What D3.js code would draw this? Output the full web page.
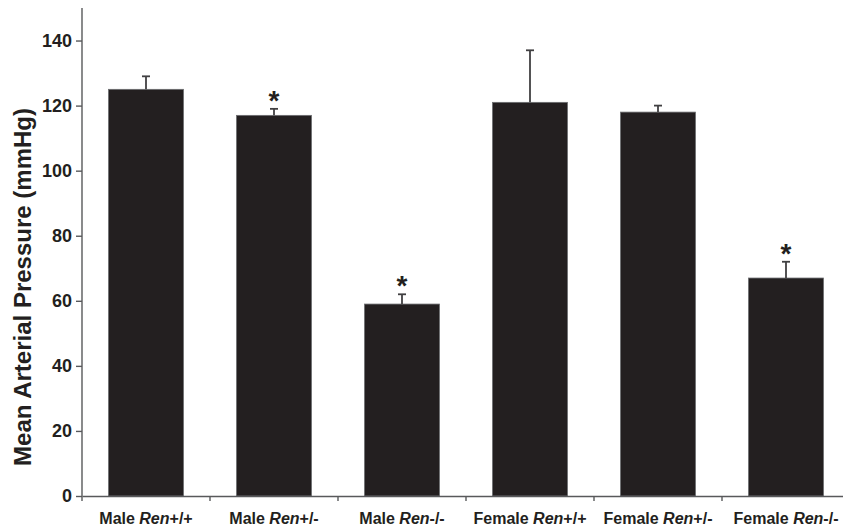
<!DOCTYPE html>
<html>
<head>
    <meta charset="utf-8" />
    <style>
        body { margin: 0; background: #fff; }
        .axis path, .axis line {
            stroke: #58595b;
            stroke-width: 1.4;
        }
        .axis text {
            font-family: "Liberation Sans", Arial, sans-serif;
            font-weight: bold;
            fill: #231f20;
        }
    </style>
    <script src="https://d3js.org/d3.v7.min.js"></script>
</head>
<body>
<script>

// data
let groups = ["Male +/+", "Male +/-", "Male -/-", "Female +/+", "Female +/-", "Female -/-"];
let sexes = ["Male", "Male", "Male", "Female", "Female", "Female"];
let genotypes = ["+/+", "+/-", "-/-", "+/+", "+/-", "-/-"];
let means = [125, 117, 59, 121, 118, 67];
let errors = [4, 2, 3, 16, 2, 5];
let significant = [false, true, true, false, false, true];
let yTicks = [0, 20, 40, 60, 80, 100, 120, 140];

let realW = 843, realH = 529;
let margin = { top: 8, right: -7, bottom: 33, left: 82 };
let w = realW - margin.left - margin.right,
    h = realH - margin.top - margin.bottom;

let svg = d3.select("body")
    .append("svg")
    .attr("width", realW)
    .attr("height", realH);

let g = svg.append("g")
    .attr("transform", "translate(" + margin.left + "," + margin.top + ")");

let xScale = d3.scaleBand()
    .domain(groups)
    .range([0, w])
    .paddingInner(0.414)
    .paddingOuter(0.207);

let yScale = d3.scaleLinear()
    .domain([0, 150])
    .range([h, 0]);

// bars
g.selectAll("rect.bar")
    .data(groups)
    .enter()
    .append("rect")
    .attr("class", "bar")
    .attr("x", d => xScale(d))
    .attr("y", (d, i) => yScale(means[i]))
    .attr("width", xScale.bandwidth())
    .attr("height", (d, i) => h - yScale(means[i]))
    .attr("fill", "#231f20")
    .attr("stroke", "#6d6e71")
    .attr("stroke-width", 0.8);

// error bars (upper only)
let cx = d => xScale(d) + xScale.bandwidth() / 2;

g.selectAll("line.err")
    .data(groups)
    .enter()
    .append("line")
    .attr("class", "err")
    .attr("x1", cx).attr("x2", cx)
    .attr("y1", (d, i) => yScale(means[i]))
    .attr("y2", (d, i) => yScale(means[i] + errors[i]))
    .attr("stroke", "#414042")
    .attr("stroke-width", 1.8);

g.selectAll("line.cap")
    .data(groups)
    .enter()
    .append("line")
    .attr("class", "cap")
    .attr("x1", d => cx(d) - 4).attr("x2", d => cx(d) + 4)
    .attr("y1", (d, i) => yScale(means[i] + errors[i]))
    .attr("y2", (d, i) => yScale(means[i] + errors[i]))
    .attr("stroke", "#414042")
    .attr("stroke-width", 1.8);

// asterisks
g.selectAll("text.star")
    .data(groups.filter((d, i) => significant[i]))
    .enter()
    .append("text")
    .attr("class", "star")
    .attr("x", cx)
    .attr("y", d => {
        let i = groups.indexOf(d);
        return yScale(means[i] + errors[i]) + 1;
    })
    .attr("text-anchor", "middle")
    .attr("font-family", "Liberation Sans, Arial, sans-serif")
    .attr("font-weight", "bold")
    .attr("font-size", 28)
    .attr("fill", "#231f20")
    .text("*");

// axes
let xAxis = d3.axisBottom(xScale).tickSize(0).tickFormat("");
let xg = g.append("g")
    .attr("class", "axis")
    .attr("transform", "translate(0," + h + ")")
    .call(xAxis);

// ticks at band boundaries
let step = xScale.step();
xg.selectAll("line.bound")
    .data(d3.range(groups.length + 1))
    .enter()
    .append("line")
    .attr("class", "bound")
    .attr("x1", i => i * step).attr("x2", i => i * step)
    .attr("y1", 0).attr("y2", 5);

// x labels with italic "Ren"
let labels = g.append("g")
    .selectAll("text")
    .data(groups)
    .enter()
    .append("text")
    .attr("x", cx)
    .attr("y", h + 28)
    .attr("text-anchor", "middle")
    .attr("font-family", "Liberation Sans, Arial, sans-serif")
    .attr("font-weight", "bold")
    .attr("font-size", 16)
    .attr("fill", "#231f20");

labels.append("tspan").text((d, i) => sexes[i] + " ");
labels.append("tspan").attr("font-style", "italic").text("Ren");
labels.append("tspan").text((d, i) => genotypes[i]);

let yAxis = d3.axisLeft(yScale)
    .tickValues(yTicks)
    .tickSize(6)
    .tickPadding(4);

g.append("g")
    .attr("class", "axis")
    .call(yAxis)
    .call(s => s.select(".domain").attr("d", "M0," + h + "V0"))
    .selectAll("text")
    .attr("font-size", 18);

// axis title
g.append("text")
    .attr("transform", "translate(" + (-51) + "," + 279 + ") rotate(-90)")
    .attr("text-anchor", "middle")
    .attr("font-family", "Liberation Sans, Arial, sans-serif")
    .attr("font-weight", "bold")
    .attr("font-size", 24)
    .attr("fill", "#231f20")
    .text("Mean Arterial Pressure (mmHg)");

</script>
</body>
</html>
